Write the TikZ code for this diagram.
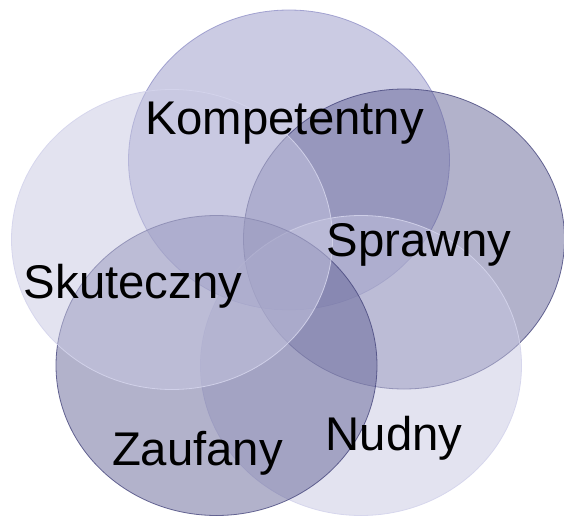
\documentclass[tikz,border=0pt]{standalone}
\usepackage{fontspec}
\setmainfont{Liberation Sans}
\definecolor{palelilac}{RGB}{199,199,225}
\definecolor{lilac}{RGB}{151,151,199}
\definecolor{slate}{RGB}{101,101,151}
\definecolor{rimdark}{RGB}{70,70,125}
\definecolor{rimmid}{RGB}{135,135,195}
\definecolor{rimlight}{RGB}{212,212,236}
\begin{document}
\begin{tikzpicture}[x=1pt,y=-1pt,
  petal/.style={line width=0.8pt,fill opacity=0.5},
  faint/.style={petal,fill=palelilac,draw=rimlight,draw opacity=0.9},
  medium/.style={petal,fill=lilac,draw=rimmid,draw opacity=0.7},
  strong/.style={petal,fill=slate,draw=rimdark,draw opacity=0.8},
  lbl/.style={anchor=base,inner sep=0pt,text=black,font=\fontsize{47.3}{50}\selectfont}]
\useasboundingbox (0,0) rectangle (564,516);
% five overlapping petals, clockwise from the top
\path[medium] (289,160)   ellipse [x radius=160.5pt, y radius=150pt];
\path[strong] (404,239)   ellipse [x radius=160.5pt, y radius=150pt];
\path[faint]  (361,365.5) ellipse [x radius=160.5pt, y radius=150pt];
\path[strong] (216.5,365.5) ellipse [x radius=160.5pt, y radius=150pt];
\path[faint]  (172,239.5) ellipse [x radius=160.5pt, y radius=150pt];
% labels
\node[lbl] (komp) at (284.5,134) {Kompetentny};
\node[lbl] (spraw) at (419,256) {Sprawny};
\node[lbl] (skut) at (133,298) {Skuteczny};
\node[lbl] (zauf) at (197.5,465) {Zaufany};
\node[lbl] (nudny) at (394,450) {Nudny};
\end{tikzpicture}
\end{document}
